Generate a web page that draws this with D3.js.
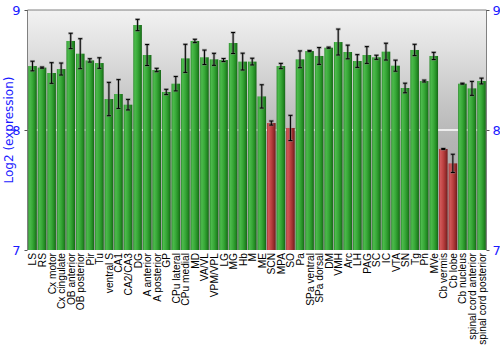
<!DOCTYPE html>
<html><head><meta charset="utf-8">
<script src="https://cdn.jsdelivr.net/npm/d3@7/dist/d3.min.js"></script>
<style>body{margin:0;background:#fff}svg{display:block}text{font-family:"Liberation Sans",Arial,sans-serif}</style>
</head><body><svg id="c" width="500" height="350"></svg>
<script>
const categories = ["LS","RS","Cx motor","Cx cingulate","OB anterior","OB posterior","Pir","Tu","ventral S","CA1","CA2/CA3","DG","A anterior","A posterior","GP","CPu lateral","CPu medial","MD","VA/VL","VPM/VPL","LG","MG","Hb","M","ME","SCN","MPA","SO","Pa","SPa ventral","SPa dorsal","DM","VMH","Arc","LH","PAG","SC","IC","VTA","SN","Tg","Pn","MVe","Cb vermis","Cb lobe","Cb nucleus","spinal cord anterior","spinal cord posterior"];
const values = [8.533,8.52,8.475,8.508,8.742,8.636,8.58,8.558,8.258,8.30,8.211,8.875,8.625,8.50,8.317,8.386,8.597,8.742,8.606,8.589,8.583,8.725,8.57,8.57,8.28,8.058,8.533,8.017,8.589,8.658,8.617,8.686,8.733,8.65,8.575,8.625,8.606,8.653,8.536,8.35,8.667,8.408,8.617,7.842,7.722,8.386,8.347,8.408];
const errors = [0.04,0.005,0.086,0.05,0.064,0.125,0.014,0.044,0.139,0.12,0.044,0.047,0.0875,0.014,0.022,0.06,0.117,0.014,0.06,0.05,0.0125,0.0875,0.07,0.028,0.097,0.017,0.022,0.105,0.07,0.005,0.07,0.005,0.108,0.057,0.053,0.07,0.017,0.07,0.046,0.04,0.047,0.008,0.03,0.004,0.076,0.004,0.058,0.024];
const lowFlag = ["SCN","SO","Cb vermis","Cb lobe"];
const yTicks = [7,8,9];
const yTitle = "Log2 (expression)";

const svg = d3.select("#c");
const L=27.5, R=486.5, T=10, B=250;
const x = d3.scaleBand().domain(categories).range([L+0.5,R-0.5]).paddingInner(0.1).paddingOuter(0.02);
const y = d3.scaleLinear().domain([7,9]).range([B,T]);

const defs = svg.append("defs");
const bg = defs.append("linearGradient").attr("id","bg").attr("x1",0).attr("x2",0).attr("y1",0).attr("y2",1);
[[0,"#f2f2f2"],[0.2,"#dcdcdc"],[0.4,"#c4c4c4"],[0.55,"#b4b4b4"],[1,"#a0a0a0"]].forEach(s=>bg.append("stop").attr("offset",s[0]).attr("stop-color",s[1]));
function barGrad(id, cols){
  const g = defs.append("linearGradient").attr("id",id).attr("x1",0).attr("x2",1).attr("y1",0).attr("y2",0);
  cols.forEach(s=>g.append("stop").attr("offset",s[0]).attr("stop-color",s[1]));
}
barGrad("gG",[[0,"#2a8a2a"],[0.18,"#4cbb4c"],[0.5,"#38a838"],[0.78,"#238c23"],[1,"#176417"]]);
barGrad("gR",[[0,"#a83434"],[0.18,"#d05858"],[0.5,"#bb4040"],[0.78,"#962c2c"],[1,"#6e1c1c"]]);

svg.append("rect").attr("x",L).attr("y",T).attr("width",R-L).attr("height",B-T).attr("fill","url(#bg)");
svg.append("line").attr("x1",L).attr("x2",R).attr("y1",y(8)).attr("y2",y(8)).attr("stroke","#fff").attr("stroke-width",1.5);

svg.selectAll("rect.bar").data(categories).join("rect").attr("class","bar")
  .attr("x",d=>x(d)).attr("width",x.bandwidth())
  .attr("y",(d,i)=>y(values[i])).attr("height",(d,i)=>y(7)-y(values[i]))
  .attr("fill",d=>lowFlag.includes(d)?"url(#gR)":"url(#gG)");

const eg = svg.append("g");
categories.forEach((c,i)=>{
  const cx = x(c)+x.bandwidth()/2, y1=y(values[i]+errors[i]), y2=y(values[i]-errors[i]);
  const g = eg.append("g");
  const sh = g.append("g").attr("stroke","#7a7a7a").attr("stroke-opacity",0.55).attr("stroke-width",2.6);
  sh.append("line").attr("x1",cx).attr("x2",cx).attr("y1",y1).attr("y2",y2);
  sh.append("line").attr("x1",cx-2.5).attr("x2",cx+2.5).attr("y1",y1).attr("y2",y1);
  sh.append("line").attr("x1",cx-2.5).attr("x2",cx+2.5).attr("y1",y2).attr("y2",y2);
  const k = g.append("g").attr("stroke","#000").attr("stroke-width",1);
  k.append("line").attr("x1",cx).attr("x2",cx).attr("y1",y1).attr("y2",y2);
  k.append("line").attr("x1",cx-2).attr("x2",cx+2).attr("y1",y1).attr("y2",y1);
  k.append("line").attr("x1",cx-2).attr("x2",cx+2).attr("y1",y2).attr("y2",y2);
});

// frame
svg.append("line").attr("x1",L).attr("x2",R).attr("y1",T).attr("y2",T).attr("stroke","#808080");
svg.append("line").attr("x1",L).attr("x2",L).attr("y1",T).attr("y2",B).attr("stroke","#808080");
svg.append("line").attr("x1",R).attr("x2",R).attr("y1",T).attr("y2",B).attr("stroke","#808080");

const la = svg.append("g").attr("transform",`translate(${L},0)`).call(d3.axisLeft(y).tickValues(yTicks).tickFormat(d3.format("d")).tickSize(3).tickPadding(4));
const ra = svg.append("g").attr("transform",`translate(${R},0)`).call(d3.axisRight(y).tickValues(yTicks).tickFormat(d3.format("d")).tickSize(3).tickPadding(3));
[la,ra].forEach(a=>{a.select(".domain").remove();a.selectAll(".tick line").attr("stroke","#555");a.selectAll("text").attr("fill","#1a1aff").attr("font-size",13).style("font-family","'DejaVu Sans',sans-serif");});

svg.append("text").attr("transform",`translate(13,130) rotate(-90)`).attr("text-anchor","middle")
  .attr("fill","#1a1aff").attr("font-size",12).style("font-family","'DejaVu Sans',sans-serif").text(yTitle);

svg.append("g").selectAll("text").data(categories).join("text")
  .attr("transform",d=>`translate(${x(d)+x.bandwidth()/2+4},${B+3}) rotate(-90)`)
  .attr("text-anchor","end").attr("font-size",10.2).attr("fill","#000").text(d=>d);
</script></body></html>
